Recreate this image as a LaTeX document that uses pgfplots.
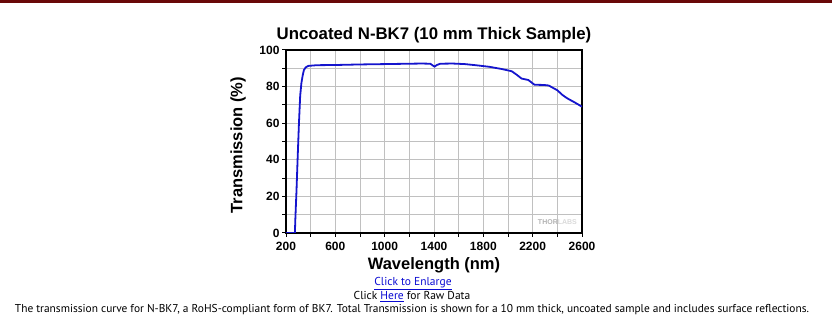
\documentclass[border=0pt]{standalone}
\usepackage{fontspec}
\setmainfont{Liberation Sans}
\newfontfamily\capfont{PT Sans}
\usepackage{pgfplots}
\pgfplotsset{compat=1.18}
\definecolor{curveblue}{RGB}{20,20,205}
\definecolor{barred}{RGB}{105,8,8}
\definecolor{gridgray}{RGB}{192,192,192}
\definecolor{linkblue}{RGB}{10,10,210}
\begin{document}
\begin{tikzpicture}[x=1pt,y=1pt]
\useasboundingbox (0pt,0pt) rectangle (832pt,323pt);
\fill[barred] (0pt,320pt) rectangle (832pt,323pt);
\begin{axis}[
  at={(286pt,90pt)}, anchor=south west,
  scale only axis, width=296pt, height=183pt,
  xmin=200, xmax=2600, ymin=0, ymax=100,
  xtick={200,600,...,2600}, minor xtick={400,800,...,2400},
  ytick={0,20,...,100}, minor ytick={10,30,...,90},
  grid=both,
  major grid style={gridgray, line width=0.8pt},
  minor grid style={gridgray, line width=0.8pt},
  tick align=outside, tick pos=left,
  major tick length=4pt, minor tick length=4pt,
  every tick/.style={black, line width=1pt},
  axis line style={black, line width=1.8pt},
  /pgf/number format/assume math mode=true,
  /pgf/number format/set thousands separator={},
  ticklabel style={font=\bfseries\fontsize{12}{12}\selectfont},
  xticklabel style={yshift=-1.5pt},
  yticklabel style={xshift=1pt},
  title={Uncoated N-BK7 (10 mm Thick Sample)},
  title style={font=\bfseries\fontsize{16.8}{17}\selectfont, at={(axis description cs:0.5,1.05)}, anchor=center},
  xlabel={Wavelength (nm)},
  xlabel style={font=\bfseries\fontsize{16.5}{17}\selectfont, at={(axis description cs:0.5,-0.175)}, anchor=center},
  ylabel={Transmission (\%)},
  ylabel style={font=\bfseries\fontsize{16.5}{17}\selectfont, at={(axis description cs:-0.1622,0.48)}, anchor=center},
  clip=true,
]
\addplot[curveblue, line width=1.8pt] coordinates {
(200,0) (272,0) (276,8) (285,23) (295,42) (305,60) (315,75) (325,82) (335,86)
(345,89) (360,90.5) (380,91.3) (450,91.7) (600,91.8) (800,92.1) (1000,92.3)
(1200,92.5) (1300,92.6) (1370,92.5) (1395,91.3) (1405,90.9) (1420,91.7)
(1450,92.5) (1550,92.6) (1650,92.3) (1750,91.6) (1850,90.8) (1950,89.6)
(2030,88.4) (2070,86.5) (2110,84.4) (2165,83.6) (2215,81.0) (2290,80.9)
(2330,80.6) (2400,78.0) (2440,75.5) (2480,73.6) (2545,71.2) (2600,69.0)
};
\node[anchor=east, font=\bfseries\fontsize{7}{7}\selectfont, inner sep=0pt] at (axis cs:2560,6) {\textcolor{black!30}{THOR}\textcolor{black!15}{LABS}};
\end{axis}
\node[font=\capfont\fontsize{11.5}{12}\selectfont, text=linkblue] at (413pt,39.5pt) {\underline{Click to Enlarge}};
\node[font=\capfont\fontsize{11.5}{12}\selectfont] at (412pt,26.5pt) {Click \textcolor{linkblue}{\underline{Here}} for Raw Data};
\node[font=\capfont\fontsize{11.4}{12}\selectfont] at (412pt,13.5pt) {The transmission curve for N-BK7, a RoHS-compliant form of BK7. Total Transmission is shown for a 10 mm thick, uncoated sample and includes surface reflections.};
\end{tikzpicture}
\end{document}
